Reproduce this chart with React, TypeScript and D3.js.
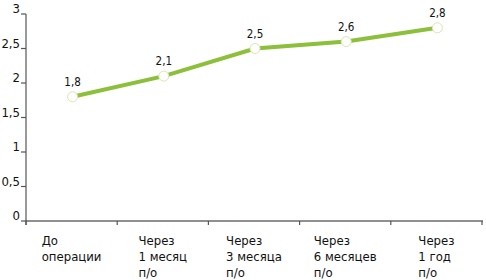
import React, { useEffect, useRef } from "react";
import * as d3 from "d3";

const categories: string[][] = [
  ["До", "операции"],
  ["Через", "1 месяц", "п/о"],
  ["Через", "3 месяца", "п/о"],
  ["Через", "6 месяцев", "п/о"],
  ["Через", "1 год", "п/о"],
];
const values: number[] = [1.8, 2.1, 2.5, 2.6, 2.8];
const valueLabels: string[] = ["1,8", "2,1", "2,5", "2,6", "2,8"];
const yTicks: number[] = [0, 0.5, 1, 1.5, 2, 2.5, 3];
const yTickLabels: string[] = ["0", "0,5", "1", "1,5", "2", "2,5", "3"];

const W = 486;
const H = 280;
const FONT = "'Liberation Sans Narrow', 'DejaVu Sans Condensed', 'Liberation Sans', sans-serif";

export default function App() {
  const ref = useRef<SVGSVGElement | null>(null);
  useEffect(() => {
    const svg = d3.select(ref.current);
    svg.selectAll("*").remove();
    const left = 26, right = 482, top = 14, bottom = 221;
    const x = d3.scaleBand<number>().domain(d3.range(categories.length)).range([left, right]).padding(0);
    const y = d3.scaleLinear().domain([0, 3]).range([bottom, top]);
    const axisColor = "#555";

    // y axis
    svg.append("line").attr("x1", left).attr("x2", left).attr("y1", top).attr("y2", bottom + 4)
      .attr("stroke", axisColor).attr("stroke-width", 1.2);
    yTicks.forEach((t, i) => {
      svg.append("line").attr("x1", left - 5).attr("x2", left).attr("y1", y(t)).attr("y2", y(t))
        .attr("stroke", axisColor).attr("stroke-width", 1.2);
      svg.append("text").attr("x", left - 6).attr("y", y(t) - 1).attr("text-anchor", "end")
        .attr("font-family", FONT).attr("font-size", 13).attr("fill", "#111").text(yTickLabels[i]);
    });
    // x axis
    svg.append("line").attr("x1", left).attr("x2", right + 1).attr("y1", bottom).attr("y2", bottom)
      .attr("stroke", "#222").attr("stroke-width", 1.2);
    const edges = d3.range(categories.length + 1).map(i => left + i * x.bandwidth());
    edges.forEach(e => {
      svg.append("line").attr("x1", e).attr("x2", e).attr("y1", bottom).attr("y2", bottom + 4)
        .attr("stroke", axisColor).attr("stroke-width", 1.2);
    });
    categories.forEach((lines, i) => {
      const cx = (x(i) as number) + x.bandwidth() / 2;
      const t = svg.append("text").attr("font-family", FONT).attr("font-size", 13).attr("fill", "#111");
      lines.forEach((l, j) => {
        t.append("tspan").attr("x", 0).attr("y", 245 + j * 16.2).text(l);
      });
      let maxW = 0;
      t.selectAll<SVGTSpanElement, unknown>("tspan").each(function () {
        maxW = Math.max(maxW, this.getComputedTextLength());
      });
      t.selectAll("tspan").attr("x", cx - maxW / 2);
    });

    const px = (i: number) => (x(i) as number) + x.bandwidth() / 2 + 1;
    const line = d3.line<number>().x((_, i) => px(i)).y(d => y(d));
    svg.append("path").datum(values).attr("d", line).attr("fill", "none")
      .attr("stroke", "#8cbf3a").attr("stroke-width", 4);
    values.forEach((v, i) => {
      svg.append("circle").attr("cx", px(i)).attr("cy", y(v)).attr("r", 5)
        .attr("fill", "#fff").attr("stroke", "#d8e8b0").attr("stroke-width", 1);
      svg.append("text").attr("x", px(i)).attr("y", y(v) - 11).attr("text-anchor", "middle")
        .attr("font-family", FONT).attr("font-size", 11.5).attr("fill", "#111").text(valueLabels[i]);
    });
  }, []);
  return (
    <svg ref={ref} width={W} height={H} style={{ position: "absolute", left: 0, top: 0, background: "#fff" }} />
  );
}
